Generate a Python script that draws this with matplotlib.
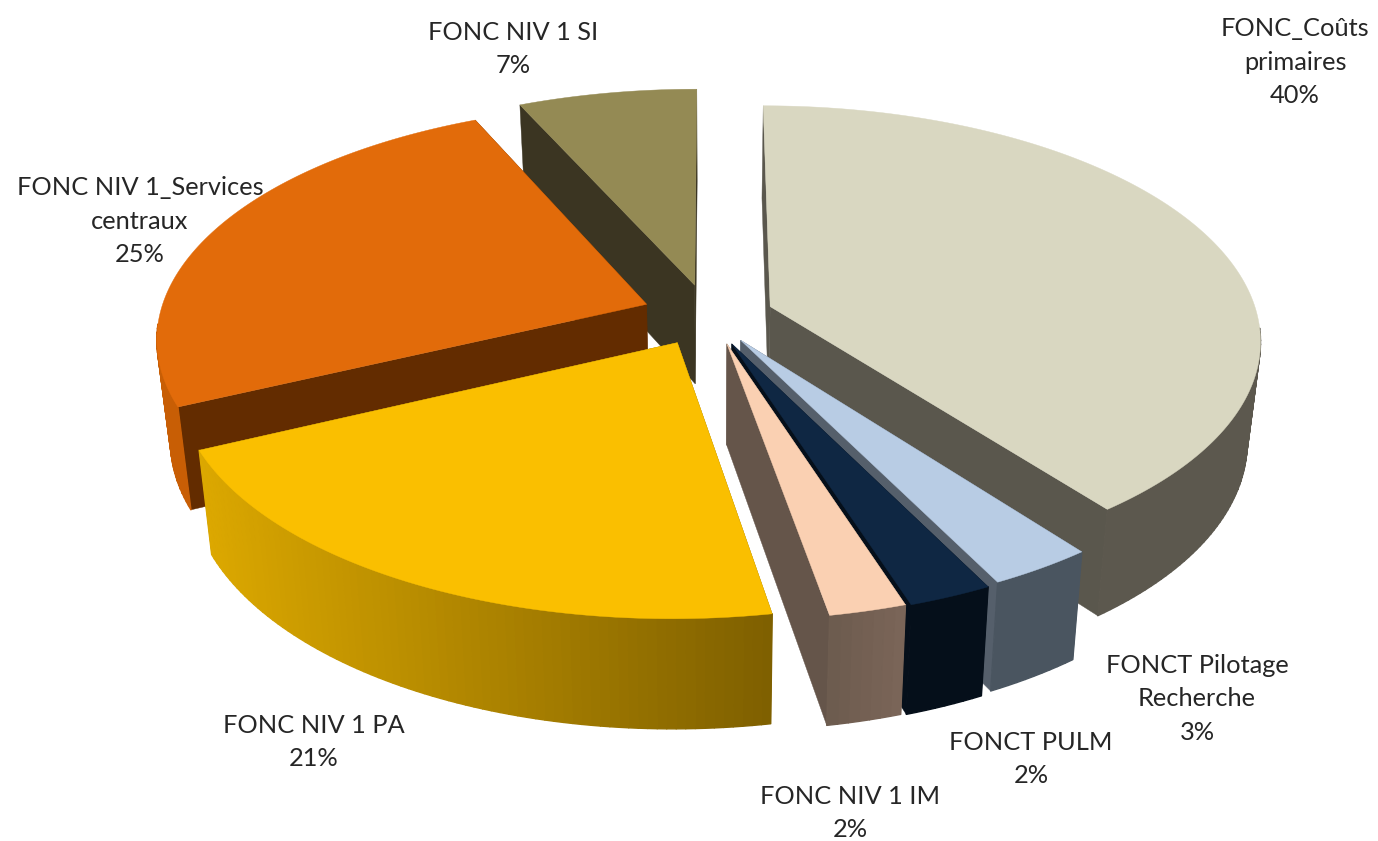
import numpy as np
import matplotlib
matplotlib.use("Agg")
import matplotlib.pyplot as plt
from matplotlib.colors import to_rgb
from matplotlib.patches import Polygon
from matplotlib.collections import PolyCollection

labels = ["FONC_Coûts\nprimaires\n40%", "FONCT Pilotage\nRecherche\n3%", "FONCT PULM\n2%", "FONC NIV 1 IM\n2%",
          "FONC NIV 1 PA\n21%", "FONC NIV 1_Services\ncentraux\n25%", "FONC NIV 1 SI\n7%"]
# shares, the labels only show them rounded
values = [39.6, 3.0, 2.4, 2.2, 20.8, 25.2, 6.8]
top_colors = ["#D9D7C1", "#B8CCE4", "#0F2743", "#FAD0B2", "#FABF00", "#E26B0A", "#948A54"]
cut_colors = ["#5A574D", "#555F6B", "#050F1A", "#65554A", "#8A6D00", "#632C00", "#3B3522"]
wall_left = ["#5C584E", "#4A5560", "#050F1A", "#6B5A4D", "#DCA800", "#C85E05", "#3B3522"]
wall_right = ["#5C584E", "#4A5560", "#050F1A", "#7A6558", "#7F6000", "#C85E05", "#3B3522"]
# slice offsets on the disc
shift_x = [0.12, 0.058, 0.04, 0.03, -0.07, -0.135, -0.036]
shift_y = [0.08, -0.065, -0.08, -0.08, -0.075, 0.09, 0.175]
label_pos = [(1295, 62), (1197, 699), (1031, 759), (850, 813), (314, 742), (140, 221), (513, 49)]

W, H = 1378, 841
cx, cy = 712, 325
rx, ry = 490, 233
persp = 0.137
depth = 100


def project(x, y, z=0.0):
    # x, y on the disc (y to the back), z down from the top face
    w = 1 / (1 + persp * y) / (1 + 0.025 * z)
    return cx + x * rx * w, cy - y * ry * w + z * depth * (1 / (1 + persp * y))


def blend(c1, c2, t):
    a, b = np.array(to_rgb(c1)), np.array(to_rgb(c2))
    return a + (b - a) * t


fig = plt.figure(figsize=(W / 100, H / 100), dpi=100)
ax = fig.add_axes([0, 0, 1, 1])
ax.set_xlim(0, W)
ax.set_ylim(H, 0)
ax.axis("off")

edges = np.cumsum([0] + values) / sum(values) * 2 * np.pi

# back slices first, front ones last
order = [6, 5, 0, 1, 2, 3, 4]
for z_i, i in enumerate(order):
    a0, a1 = edges[i], edges[i + 1]
    ox, oy = shift_x[i], shift_y[i]
    t = np.linspace(a0, a1, max(int((a1 - a0) * 60), 6))
    ex, ey = ox + np.sin(t), oy + np.cos(t)

    # cut faces
    for a in (a0, a1):
        px, py = ox + np.sin(a), oy + np.cos(a)
        quad = [project(ox, oy), project(px, py), project(px, py, 1), project(ox, oy, 1)]
        ax.add_patch(Polygon(quad, facecolor=cut_colors[i], edgecolor=cut_colors[i], lw=0.3, zorder=z_i * 3 + 1))

    # outer wall, coloured along its width, only the part facing the viewer
    quads, cols = [], []
    xs = [project(a, b)[0] for a, b in zip(ex, ey)]
    lo, hi = min(xs), max(xs)
    for k in range(len(t) - 1):
        if np.cos(t[k]) > -0.1 and np.cos(t[k + 1]) > -0.1:
            continue
        quads.append([project(ex[k], ey[k]), project(ex[k + 1], ey[k + 1]),
                      project(ex[k + 1], ey[k + 1], 1), project(ex[k], ey[k], 1)])
        cols.append(blend(wall_left[i], wall_right[i], (xs[k] - lo) / max(hi - lo, 1)))
    ax.add_collection(PolyCollection(quads, facecolors=cols, edgecolors=cols, linewidths=1.0, zorder=z_i * 3 + 2))

    # top face
    top = [project(ox, oy)] + [project(a, b) for a, b in zip(ex, ey)]
    ax.add_patch(Polygon(top, facecolor=top_colors[i], edgecolor=top_colors[i], lw=0.3, zorder=z_i * 3 + 3))

for lab, (x, y) in zip(labels, label_pos):
    ax.text(x, y, lab, ha="center", va="center", family=["Lato", "DejaVu Sans"], fontsize=18.3,
            color="#262626", linespacing=1.57, zorder=100)

fig.savefig("out.png", dpi=100, facecolor="white")
